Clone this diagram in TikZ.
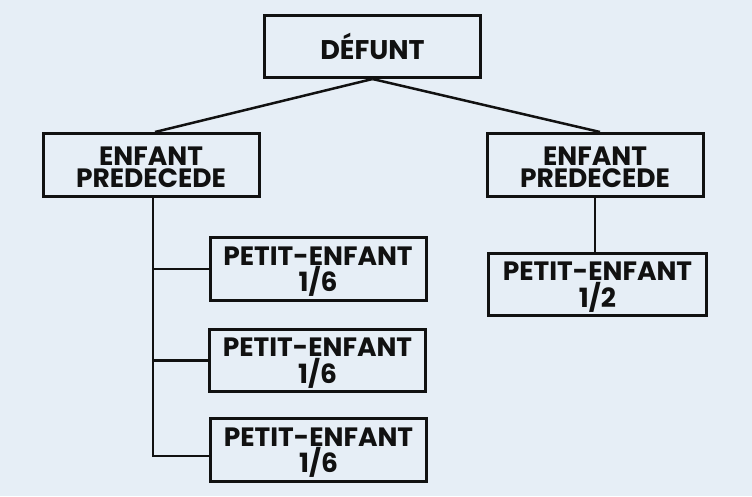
\documentclass[tikz,border=0pt]{standalone}
\usepackage{fontspec}
\setmainfont{Poppins}
\definecolor{bgc}{HTML}{E6EEF6}
\definecolor{ink}{HTML}{111111}
\newcommand\tpad{\rule{0pt}{24pt}}
\begin{document}
\begin{tikzpicture}[x=1pt,y=-1pt,
  box/.style={draw=ink,line width=3pt,minimum width=216pt,minimum height=62pt,
    inner sep=0pt,align=center,font=\fontsize{26.5}{22}\selectfont\bfseries,text=ink},
  conn/.style={draw=ink,line width=2.5pt}]
\fill[bgc] (0,0) rectangle (752,496);
\useasboundingbox (0,0) rectangle (752,496);
\node[box,font=\fontsize{27}{22}\selectfont\bfseries] (d) at (372.5,46.5) {DÉFUNT};
\node[box,minimum height=63pt] (l) at (151,165) {\tpad ENFANT\\PREDECEDE};
\node[box,minimum height=63pt] (r) at (595,165) {\tpad ENFANT\\PREDECEDE};
\node[box,minimum height=63pt] (p1) at (318,269) {\tpad PETIT-ENFANT\\1/6};
\node[box] (p2) at (317.5,360.5) {\tpad PETIT-ENFANT\\1/6};
\node[box,minimum height=63pt] (p3) at (318.5,450) {\tpad PETIT-ENFANT\\1/6};
\node[box,minimum width=218pt] (p4) at (597.5,284.5) {\tpad PETIT-ENFANT\\1/2};
\coordinate (lb) at (153,198);
\coordinate (lend) at (153,456);
\draw[conn] (d.south) -- ([xshift=4pt]l.north);
\draw[conn] (d.south) -- ([xshift=5pt]r.north);
\draw[conn] (lb) -- (lend) -- (lend -| p3.west);
\draw[conn] (lb |- p1.west) -- (p1.west);
\draw[conn] (lb |- p2.west) -- (p2.west);
\draw[conn] (r.south) -- (r.south |- p4.north);
\end{tikzpicture}
\end{document}
